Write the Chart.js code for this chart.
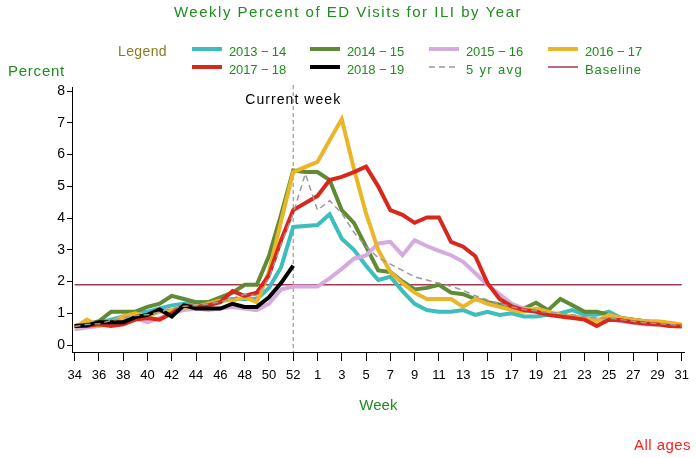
<!DOCTYPE html>
<html>
<head>
<meta charset="utf-8">
<script src="https://cdn.jsdelivr.net/npm/chart.js@4.4.1/dist/chart.umd.min.js"></script>
<style>
  html, body { margin: 0; padding: 0; background: #fff; }
  #wrap { width: 696px; height: 458px; }
</style>
</head>
<body>
<div id="wrap"><canvas id="myChart" width="696" height="458"></canvas></div>
<script>
// week slots on the x axis (week 53 only exists for 2014-15)
const weeks = [34, 35, 36, 37, 38, 39, 40, 41, 42, 43, 44, 45, 46, 47, 48, 49, 50, 51, 52, 53,
  1, 2, 3, 4, 5, 6, 7, 8, 9, 10, 11, 12, 13, 14, 15, 16, 17, 18, 19, 20,
  21, 22, 23, 24, 25, 26, 27, 28, 29, 30, 31];
const yTicks = [0, 1, 2, 3, 4, 5, 6, 7, 8];

const s2013 = [0.6, 0.65, 0.7, 0.8, 0.9, 1.0, 1.05, 1.15, 1.25, 1.3, 1.35, 1.35, 1.4, 1.45, 1.45, 1.45, 1.8, 2.45, 3.72, null,
  3.78, 4.12, 3.35, 3.0, 2.5, 2.05, 2.15, 1.7, 1.3, 1.1, 1.05, 1.05, 1.1, 0.95, 1.05, 0.95, 1.0, 0.9, 0.9, 0.95,
  1.0, 1.1, 0.95, 0.95, 1.05, 0.85, 0.8, 0.75, 0.7, 0.65, 0.6];
const s2014 = [0.6, 0.65, 0.75, 1.05, 1.05, 1.05, 1.2, 1.3, 1.55, 1.45, 1.35, 1.35, 1.5, 1.65, 1.9, 1.9, 2.8, 4.1, 5.5, 5.45,
  5.45, 5.2, 4.25, 3.85, 3.1, 2.35, 2.3, 2.0, 1.75, 1.8, 1.9, 1.65, 1.6, 1.45, 1.35, 1.28, 1.2, 1.15, 1.33, 1.1,
  1.45, 1.25, 1.05, 1.05, 0.95, 0.85, 0.8, 0.75, 0.7, 0.65, 0.6];
const s2015 = [0.5, 0.55, 0.6, 0.7, 0.8, 0.85, 0.72, 0.85, 1.0, 1.1, 1.15, 1.1, 1.15, 1.2, 1.15, 1.1, 1.3, 1.75, 1.84, null,
  1.84, 2.1, 2.4, 2.72, 2.82, 3.2, 3.25, 2.83, 3.3, 3.12, 2.97, 2.83, 2.62, 2.26, 1.9, 1.6, 1.3, 1.15, 1.1, 1.0,
  0.95, 0.9, 0.85, 0.8, 0.85, 0.75, 0.7, 0.65, 0.65, 0.6, 0.6];
const s2016 = [0.55, 0.8, 0.6, 0.7, 0.9, 1.0, 0.9, 1.05, 1.1, 1.2, 1.2, 1.3, 1.4, 1.4, 1.5, 1.35, 2.3, 3.9, 5.45, null,
  5.77, 6.45, 7.12, 5.55, 4.15, 3.0, 2.3, 1.95, 1.65, 1.45, 1.45, 1.45, 1.2, 1.45, 1.3, 1.2, 1.1, 1.05, 1.15, 1.05,
  0.95, 0.9, 0.85, 0.75, 0.95, 0.85, 0.8, 0.75, 0.75, 0.7, 0.65];
const s2017 = [0.6, 0.6, 0.65, 0.6, 0.65, 0.8, 0.85, 0.8, 1.0, 1.25, 1.2, 1.25, 1.35, 1.7, 1.55, 1.65, 2.2, 3.3, 4.25, null,
  4.7, 5.2, 5.3, 5.45, 5.62, 5.0, 4.25, 4.1, 3.85, 4.02, 4.02, 3.25, 3.1, 2.8, 1.95, 1.45, 1.22, 1.1, 1.05, 0.95,
  0.9, 0.85, 0.8, 0.6, 0.8, 0.78, 0.72, 0.68, 0.65, 0.6, 0.58];
const s2018 = [0.6, 0.62, 0.72, 0.72, 0.72, 0.88, 0.95, 1.12, 0.9, 1.25, 1.15, 1.15, 1.15, 1.3, 1.2, 1.2, 1.5, 1.95, 2.5];
const avg5 = [0.58, 0.65, 0.67, 0.77, 0.86, 0.93, 0.95, 1.04, 1.15, 1.22, 1.24, 1.29, 1.36, 1.47, 1.6, 1.55, 2.1, 3.15, 4.15, 5.4,
  4.25, 4.55, 4.15, 3.55, 3.1, 2.75, 2.55, 2.35, 2.15, 2.05, 1.95, 1.85, 1.72, 1.55, 1.42, 1.3, 1.2, 1.12, 1.08, 1.03,
  1.0, 0.95, 0.9, 0.85, 0.85, 0.8, 0.75, 0.7, 0.68, 0.65, 0.6];
const BASELINE = 1.9;
const CURRENT_WEEK = 52;

const GREEN_TEXT = '#1e8c1e';

function pts(arr) {
  return arr.map((v, i) => ({ x: i, y: v }));
}

function season(label, data, color, order) {
  return {
    label: label,
    data: pts(data),
    borderColor: color,
    backgroundColor: color,
    borderWidth: 4,
    pointRadius: 0,
    tension: 0,
    spanGaps: true,
    order: order
  };
}

// text with letter spacing stretched to a given width
function drawText(ctx, str, x, y, font, color, align, width) {
  ctx.save();
  ctx.font = font;
  ctx.fillStyle = color;
  ctx.textBaseline = 'middle';
  ctx.letterSpacing = '0px';
  if (width) {
    const w = ctx.measureText(str).width;
    const sp = (width - w) / str.length;
    ctx.letterSpacing = sp.toFixed(2) + 'px';
  }
  ctx.textAlign = align;
  ctx.fillText(str, x, y);
  ctx.restore();
}

const overlay = {
  id: 'overlay',
  beforeDatasetsDraw(chart) {
    const { ctx, chartArea, scales } = chart;
    const x = scales.x.getPixelForValue(weeks.indexOf(CURRENT_WEEK));
    ctx.save();
    ctx.strokeStyle = '#858585';
    ctx.lineWidth = 1;
    ctx.setLineDash([4, 3]);
    ctx.beginPath();
    ctx.moveTo(x, chartArea.top - 2);
    ctx.lineTo(x, chartArea.bottom);
    ctx.stroke();
    ctx.restore();
  },
  afterDraw(chart) {
    const { ctx, chartArea, scales } = chart;
    const font = (s) => s + 'px "Liberation Sans", Arial, sans-serif';

    drawText(ctx, 'Weekly Percent of ED Visits for ILI by Year', 348, 13, font(15), GREEN_TEXT, 'center', 348);
    drawText(ctx, 'Legend', 118, 52, font(14), '#8c7a1e', 'left', 49);
    drawText(ctx, 'Percent', 8, 72, font(15), GREEN_TEXT, 'left', 57);

    // legend, 4 per row
    const colX = [192, 310, 429, 548];
    const rowY = [52, 70];
    chart.data.datasets.forEach((ds, i) => {
      const cx = colX[i % 4];
      const ry = rowY[Math.floor(i / 4)];
      ctx.save();
      ctx.strokeStyle = ds.borderColor;
      ctx.lineWidth = ds.borderWidth;
      ctx.setLineDash(ds.borderDash || []);
      ctx.beginPath();
      ctx.moveTo(cx, ry - 3);
      ctx.lineTo(cx + 30, ry - 3);
      ctx.stroke();
      ctx.restore();
      drawText(ctx, ds.label, cx + 37, ry, font(13), GREEN_TEXT, 'left', 57);
    });

    const cw = scales.x.getPixelForValue(weeks.indexOf(CURRENT_WEEK));
    drawText(ctx, 'Current week', cw, 100, font(14), '#000', 'center', 96);
    drawText(ctx, 'Week', (chartArea.left + chartArea.right) / 2, 406, font(15), GREEN_TEXT, 'center');
    drawText(ctx, 'All ages', 691, 446, font(15), '#ff2020', 'right', 57);
  }
};

const ctx = document.getElementById('myChart').getContext('2d');
const chart = new Chart(ctx, {
  type: 'line',
  data: {
    datasets: [
      season('2013 \u2212 14', s2013, '#3dbdbd', 7),
      season('2014 \u2212 15', s2014, '#5e8b34', 6),
      season('2015 \u2212 16', s2015, '#d4aadf', 5),
      season('2016 \u2212 17', s2016, '#ebb52a', 4),
      season('2017 \u2212 18', s2017, '#d8281c', 3),
      season('2018 \u2212 19', s2018, '#000000', 2),
      {
        label: '5 yr avg',
        data: pts(avg5),
        borderColor: '#9a9a9a',
        borderWidth: 1.5,
        borderDash: [6, 4],
        pointRadius: 0,
        tension: 0,
        order: 1
      },
      {
        label: 'Baseline',
        data: [{ x: 0, y: BASELINE }, { x: weeks.length - 1, y: BASELINE }],
        borderColor: '#a03a50',
        borderWidth: 1.5,
        pointRadius: 0,
        order: 8
      }
    ]
  },
  options: {
    responsive: false,
    animation: false,
    layout: { padding: { top: 87, right: 8, left: 0, bottom: 0 } },
    plugins: {
      legend: { display: false },
      title: { display: false },
      tooltip: { enabled: false }
    },
    scales: {
      x: {
        type: 'linear',
        min: -0.22,
        max: 50.25,
        afterFit: (s) => { s.height = 106; },
        afterBuildTicks: (s) => {
          s.ticks = weeks.map((w, i) => i).filter(i => i % 2 === 0).map(v => ({ value: v }));
        },
        grid: { drawOnChartArea: false, drawTicks: true, tickLength: 9, color: '#000' },
        border: { display: true, color: '#000', width: 1 },
        ticks: {
          autoSkip: false,
          maxRotation: 0,
          padding: 7,
          color: '#000',
          font: { family: '"Liberation Sans", Arial, sans-serif', size: 13 },
          callback: (v) => weeks[v]
        }
      },
      y: {
        type: 'linear',
        min: -0.22,
        max: 8.13,
        afterFit: (s) => { s.width = 72; },
        afterBuildTicks: (s) => { s.ticks = yTicks.map(v => ({ value: v })); },
        grid: { drawOnChartArea: false, drawTicks: true, tickLength: 5, color: '#000' },
        border: { display: true, color: '#000', width: 1 },
        ticks: {
          padding: 2,
          color: '#000',
          font: { family: '"Liberation Sans", Arial, sans-serif', size: 14 }
        }
      }
    }
  },
  plugins: [overlay]
});
</script>
</body>
</html>
